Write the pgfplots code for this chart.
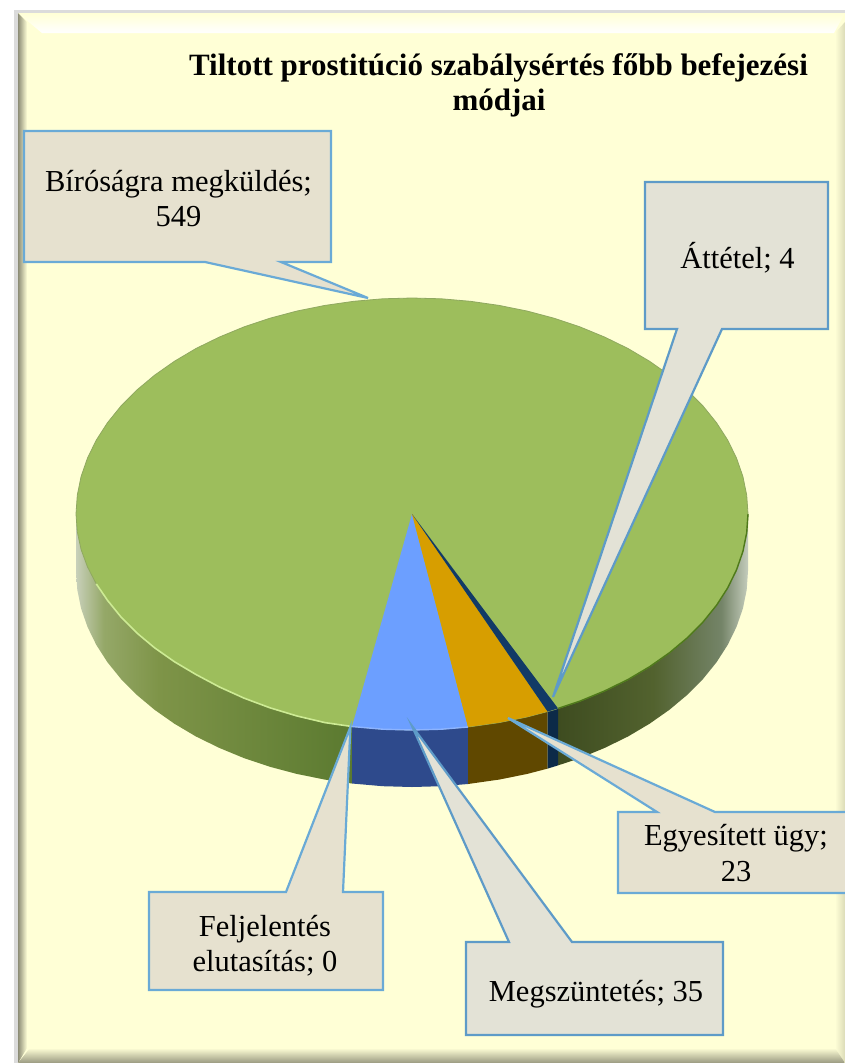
\documentclass[border=0pt]{standalone}
\usepackage{pgfplots}
\pgfplotsset{compat=1.18}
\usepackage{fontspec}
\setmainfont{Liberation Serif}
\definecolor{bg}{HTML}{FFFFD6}
\definecolor{ptop}{HTML}{9DBE5C}
\definecolor{box}{HTML}{E6E1CF}
\definecolor{boxb}{HTML}{E3E2D6}
\definecolor{edge}{HTML}{6AAAD6}
\definecolor{edgeb}{HTML}{5E9BC8}
\definecolor{sa}{HTML}{C8D0BA}
\definecolor{sb}{HTML}{95A868}
\definecolor{sc}{HTML}{7E9448}
\definecolor{sd}{HTML}{5B7A30}
\definecolor{ra}{HTML}{3E4C20}
\definecolor{rb}{HTML}{52622E}
\definecolor{rc}{HTML}{748468}
\definecolor{rd}{HTML}{C4CCBC}
\definecolor{sideblue}{HTML}{2E4A8C}
\definecolor{sidebrown}{HTML}{604800}
\definecolor{sidenavy}{HTML}{0C2A48}
\definecolor{toprim}{HTML}{8FA860}
\definecolor{topblue}{HTML}{6C9FFF}
\definecolor{toporange}{HTML}{D79E00}
\definecolor{topnavy}{HTML}{123A66}
\definecolor{rimlight}{HTML}{CDEB94}
\definecolor{rimdark}{HTML}{4F7A1A}
\definecolor{rimblue}{HTML}{8DB4FF}
\pgfdeclarehorizontalshading{leftside}{100bp}{color(0bp)=(sa); color(25bp)=(sa); color(30bp)=(sb); color(40bp)=(sc); color(75bp)=(sd); color(100bp)=(sd)}
\pgfdeclarehorizontalshading{rightside}{100bp}{color(0bp)=(ra); color(25bp)=(ra); color(50bp)=(rb); color(68bp)=(rc); color(75bp)=(rd); color(100bp)=(rd)}
\newcommand{\lab}[3]{\node[anchor=base,inner sep=0pt,font=\fontsize{30.5}{35}\selectfont] at (axis cs:#1,#2) {#3};}
\newcommand{\ttl}[3]{\node[anchor=base,inner sep=0pt,font=\fontsize{31}{35}\selectfont\bfseries] at (axis cs:#1,#2) {#3};}
\begin{document}
\begin{tikzpicture}
\begin{axis}[scale only axis,width=845pt,height=1063pt,xmin=0,xmax=845,ymin=0,ymax=1063,y dir=reverse,hide axis]
% page and panel
\addplot[fill=white,draw=none] coordinates {(0,0)(845,0)(845,1063)(0,1063)} --cycle;
\addplot[fill=bg,draw=none] coordinates {(15,11)(845,11)(845,1063)(15,1063)} --cycle;
\addplot[fill=black!14!white,draw=none] coordinates {(14,10)(845,10)(845,13)(14,13)} --cycle;
\addplot[fill=black!14!white,draw=none] coordinates {(14,10)(18,10)(18,1063)(14,1063)} --cycle;
\addplot[draw=none,shade,top color=bg,bottom color=white] coordinates {(18,13)(845,13)(834,33)(42,33)} --cycle;
\addplot[draw=none,shade,left color=black!45!bg,right color=bg] coordinates {(18,13)(27,22)(27,1048)(18,1063)} --cycle;
\addplot[draw=none,shade,left color=bg,right color=black!14!bg] coordinates {(835,33)(845,22)(845,1063)(835,1048)} --cycle;
\addplot[draw=none,shade,top color=bg,bottom color=black!40!bg] coordinates {(30,1048)(835,1048)(845,1063)(18,1063)} --cycle;
% side of the pie
\addplot[draw=none,shade,shading=leftside] coordinates {(352,726.5)(325,722.6)(297.1,716)(270,707.8)(244,698.1)(219.3,686.9)(196,674.5)(174.4,661.7)(154.6,647.8)(136.8,632.9)(121,617)(107.5,600.3)(96.3,583.9)(87.5,566.9)(81.1,549.5)(77.3,531.8)(76,514)(76,571)(77.3,589.8)(81.1,608.5)(87.5,626.9)(96.3,644.9)(107.5,662.3)(121,679)(136.8,694.9)(154.6,709.8)(174.4,723.7)(196,736.5)(219.3,747.9)(244,758.1)(270,766.8)(297.1,774)(325,779.6)(352,783.5)} --cycle;
\addplot[draw=none,shade,shading=rightside] coordinates {(558,708.4)(580,701.1)(604.7,690.9)(628,679.5)(649.6,666.7)(669.4,652.8)(687.2,637.9)(703,622)(716.5,605.3)(727.7,587.9)(736.5,569.9)(742.9,551.5)(746.7,532.8)(748,514)(748,571)(746.7,589.8)(742.9,608.5)(736.5,626.9)(727.7,644.9)(716.5,662.3)(703,679)(687.2,694.9)(669.4,709.8)(649.6,723.7)(628,736.5)(604.7,747.9)(580,758.1)(558,765.4)} --cycle;
\addplot[fill=sideblue,draw=none] coordinates {(468,727)(441.3,729.2)(412,730)(382.7,729.2)(352,726.5)(352,783.5)(382.7,786.2)(412,787)(441.3,786.2)(468,784)} --cycle;
\addplot[fill=sidebrown,draw=none] coordinates {(547.6,711.6)(526.9,717)(499,722.6)(468,727)(468,784)(499,779.6)(526.9,774)(547.6,768.6)} --cycle;
\addplot[fill=sidenavy,draw=none] coordinates {(558,708.4)(547.6,711.6)(547.6,768.6)(558,765.4)} --cycle;
% top of the pie
\addplot[fill=ptop,draw=toprim,line width=0.8pt] coordinates {(748,514)(746.7,532.8)(742.9,551.5)(736.5,569.9)(727.7,587.9)(716.5,605.3)(703,622)(687.2,637.9)(669.4,652.8)(649.6,666.7)(628,679.5)(604.7,690.9)(580,701.1)(554,709.8)(526.9,717)(499,722.6)(470.3,726.7)(441.3,729.2)(412,730)(382.7,729.2)(353.7,726.7)(325,722.6)(297.1,716)(270,707.8)(244,698.1)(219.3,686.9)(196,674.5)(174.4,661.7)(154.6,647.8)(136.8,632.9)(121,617)(107.5,600.3)(96.3,583.9)(87.5,566.9)(81.1,549.5)(77.3,531.8)(76,514)(77.3,495.2)(81.1,476.5)(87.5,458.1)(96.3,440.1)(107.5,422.7)(121,406)(136.8,390.1)(154.6,375.2)(174.4,361.3)(196,348.5)(219.3,337.1)(244,326.9)(270,318.2)(297.1,311)(325,305.4)(353.7,301.3)(382.7,298.8)(412,298)(441.3,298.8)(470.3,301.3)(499,305.4)(526.9,311)(554,318.2)(580,326.9)(604.7,337.1)(628,348.5)(649.6,361.3)(669.4,375.2)(687.2,390.1)(703,406)(716.5,422.7)(727.7,440.1)(736.5,458.1)(742.9,476.5)(746.7,495.2)} --cycle;
% slices
\addplot[fill=topblue,draw=none] coordinates {(412,514)(468,727)(441.3,729.2)(412,730)(382.7,729.2)(352,726.5)} --cycle;
\addplot[fill=toporange,draw=none] coordinates {(412,514)(547.6,711.6)(526.9,717)(499,722.6)(468,727)} --cycle;
\addplot[fill=topnavy,draw=none] coordinates {(412,514)(558,708.4)(547.6,711.6)} --cycle;
% rim lights
\addplot[draw=rimlight,line width=1.6pt] coordinates {(352,726.5)(325,722.6)(297.1,716)(270,707.8)(244,698.1)(219.3,686.9)(196,674.5)(174.4,661.7)(154.6,647.8)(136.8,632.9)(121,617)(107.5,600.3)(96.3,583.9)};
\addplot[draw=rimdark,line width=1.4pt] coordinates {(558,708.4)(580,701.1)(604.7,690.9)(628,679.5)(649.6,666.7)(669.4,652.8)(687.2,637.9)(703,622)(716.5,605.3)(727.7,587.9)(736.5,569.9)(742.9,551.5)(746.7,532.8)(748,514)};
\addplot[draw=rimblue,line width=1.4pt] coordinates {(468,727)(441.3,729.2)(412,730)(382.7,729.2)(352,726.5)};
% callouts
\addplot[fill=box,draw=edge,line width=2.2pt] coordinates {(24,131)(331,131)(331,262)(281,262)(368,298)(205,262)(24,262)} --cycle;
\addplot[fill=boxb,draw=edgeb,line width=2.2pt] coordinates {(645,182)(828,182)(828,329)(722,329)(553,697)(677,329)(645,329)} --cycle;
\addplot[fill=box,draw=edge,line width=2.2pt] coordinates {(618,812)(657,812)(508,718)(715,812)(850,812)(850,893)(618,893)} --cycle;
\addplot[fill=box,draw=edge,line width=2.2pt] coordinates {(149,892)(286,892)(350.4,727)(343,892)(383,892)(383,990)(149,990)} --cycle;
\addplot[fill=boxb,draw=edgeb,line width=2.2pt] coordinates {(466,942)(509,942)(412,726)(572,942)(723,942)(723,1035)(466,1035)} --cycle;
% text
\ttl{498.5}{75}{Tiltott prostitúció szabálysértés főbb befejezési}
\ttl{499}{110}{módjai}
\lab{178.5}{191}{Bíróságra megküldés;}
\lab{178.5}{226}{549}
\lab{737.5}{268}{Áttétel; 4}
\lab{736}{845}{Egyesített ügy;}
\lab{736}{881}{23}
\lab{265}{936}{Feljelentés}
\lab{265}{971}{elutasítás; 0}
\lab{596}{1001}{Megszüntetés; 35}
\end{axis}
\end{tikzpicture}
\end{document}
